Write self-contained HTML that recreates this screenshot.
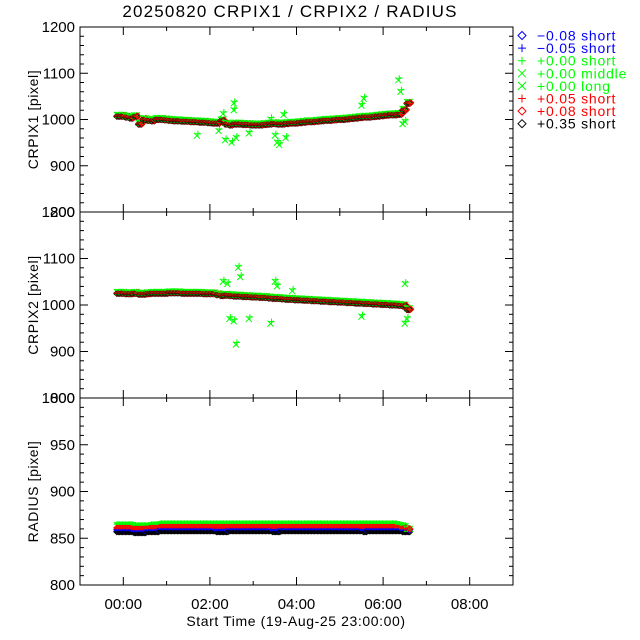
<!DOCTYPE html>
<html><head><meta charset="utf-8"><style>
body{margin:0;background:#fff}
svg{display:block;font-family:"Liberation Sans","DejaVu Sans",sans-serif}
</style></head><body>
<svg id="chart" width="640" height="640" viewBox="0 0 640 640">
<rect width="640" height="640" fill="#fff"/>
<text x="290" y="17" font-size="17" letter-spacing="1.2" text-anchor="middle">20250820 CRPIX1 / CRPIX2 / RADIUS</text>
<g id="axes"></g><g id="marks"></g><g id="legend"></g>
<text x="296" y="626" font-size="14" letter-spacing="0.6" text-anchor="middle">Start Time (19-Aug-25 23:00:00)</text>
</svg>
<script>
const times=[-0.15,-0.05,0.05,0.15,0.25,0.35,0.45,0.55,0.65,0.75,0.85,0.95,1.05,1.15,1.25,1.35,1.45,1.55,1.65,1.75,1.85,1.95,2.05,2.15,2.25,2.35,2.45,2.55,2.65,2.75,2.85,2.95,3.05,3.15,3.25,3.35,3.45,3.55,3.65,3.75,3.85,3.95,4.05,4.15,4.25,4.35,4.45,4.55,4.65,4.75,4.85,4.95,5.05,5.15,5.25,5.35,5.45,5.55,5.65,5.75,5.85,5.95,6.05,6.15,6.25,6.35,6.45,6.55];
const crpix1=[1007,1007,1005,1003,1006,990,1000,998,997,1000,1000,999,998,997,997,996,996,995,995,994,994,993,992,992,997,990,988,990,990,989,989,988,988,988,989,990,991,990,990,991,992,992,993,994,995,995,996,997,998,998,999,1000,1000,1001,1002,1003,1004,1005,1005,1006,1007,1008,1009,1010,1010,1011,1020,1035];
const crpix2=[1025,1025,1024,1024,1025,1023,1023,1024,1025,1025,1025,1025,1026,1026,1026,1025,1025,1025,1025,1025,1024,1024,1024,1022,1020,1021,1020,1019,1019,1018,1018,1017,1017,1016,1016,1015,1014,1014,1013,1012,1012,1011,1011,1010,1010,1009,1009,1008,1008,1007,1007,1006,1006,1005,1005,1004,1004,1003,1003,1002,1002,1001,1001,1000,1000,999,998,990];
const radiusBlack=[857,857,857,857,856,856,856,857,857,857,858,858,858,858,858,858,858,858,858,858,858,858,858,857,857,857,858,858,858,858,858,858,858,858,858,858,857,857,858,858,858,858,858,858,858,858,858,858,858,858,858,858,858,858,858,858,858,857,858,858,858,858,858,858,858,858,857,857];
const radiusRed=[861,861,861,861,860,860,860,861,861,861,862,862,862,862,862,862,862,862,862,862,862,862,862,862,862,862,862,862,862,862,862,862,862,862,862,862,862,862,862,862,862,862,862,862,862,862,862,862,862,862,862,862,862,862,862,862,862,862,862,862,862,862,862,862,862,862,861,860];
const radiusGreen=[864,864,864,864,863,863,863,863,864,864,865,865,865,865,865,865,865,865,865,865,865,865,865,865,865,865,865,865,865,865,865,865,865,865,865,865,865,865,865,865,865,865,865,865,865,865,865,865,865,865,865,865,865,865,865,865,865,865,865,865,865,865,865,865,865,864,863,860];
const outlierT1=[1.7,2.2,2.35,2.5,2.55,2.55,2.3,2.6,3.5,3.55,3.6,3.7,3.75,3.4,5.5,5.55,6.35,6.4,6.45,6.5,2.9];
const outlierV1=[965,975,955,950,1020,1035,1012,960,965,950,945,1010,960,1000,1030,1045,1085,1060,990,995,970];
const outlierT2=[2.3,2.45,2.55,2.6,2.65,2.7,2.4,3.5,3.55,3.4,5.5,6.5,6.5,6.55,2.9,3.9];
const outlierV2=[1050,970,965,915,1080,1060,1045,1050,1040,960,975,960,1045,970,970,1030];
const xTicks=[0,2,4,6,8];
const xTickLabels=["00:00","02:00","04:00","06:00","08:00"];
const panels=[
 {name:"crpix1",top:27,bot:212,min:800,max:1200,ticks:[800,900,1000,1100,1200],title:"CRPIX1 [pixel]"},
 {name:"crpix2",top:212,bot:398,min:800,max:1200,ticks:[800,900,1000,1100,1200],title:"CRPIX2 [pixel]"},
 {name:"radius",top:398,bot:585,min:800,max:1000,ticks:[800,850,900,950,1000],title:"RADIUS [pixel]"}];
const legendLabels=["\u22120.08 short","\u22120.05 short","+0.00 short","+0.00 middle","+0.00 long","+0.05 short","+0.08 short","+0.35 short"];
const legendColors=["#0000ff","#0000ff","#00ff00","#00ff00","#00ff00","#ff0000","#ff0000","#000000"];
const legendSyms=["d","+","+","x","x","+","d","d"];

const NS="http://www.w3.org/2000/svg";
const L=80,R=513;
const xs=t=>L+(t+1)/10*(R-L);
function mk(tag,at,parent){const e=document.createElementNS(NS,tag);for(const k in at)e.setAttribute(k,at[k]);parent.appendChild(e);return e;}
const axes=document.getElementById('axes'),marks=document.getElementById('marks'),leg=document.getElementById('legend');
function sym(g,s,x,y,c,r){
 r=r||3;let d;
 if(s==='d')d=`M${x-r},${y}L${x},${y-r}L${x+r},${y}L${x},${y+r}Z`;
 else if(s==='+')d=`M${x-r},${y}H${x+r}M${x},${y-r}V${y+r}`;
 else d=`M${x-r},${y-r}L${x+r},${y+r}M${x-r},${y+r}L${x+r},${y-r}`;
 const p=mk('path',{d:d,stroke:c,fill:'none','stroke-width':1},g);
 
 
}
panels.forEach((P,pi)=>{
 const ys=v=>P.bot-(v-P.min)/(P.max-P.min)*(P.bot-P.top);
 P.ys=ys;
 const g=mk('g',{},axes);
 
 
 mk('rect',{x:L,y:P.top,width:R-L,height:P.bot-P.top,fill:'none',stroke:'#000','stroke-width':1},g);
 const step=(P.max-P.min)/(P.ticks.length-1)/5;
 for(let v=P.min;v<=P.max+0.01;v+=step){
  const y=ys(v),major=P.ticks.some(t=>Math.abs(t-v)<0.01),len=major?8:4;
  mk('line',{x1:L,x2:L+len,y1:y,y2:y,stroke:'#000'},g);
  mk('line',{x1:R,x2:R-len,y1:y,y2:y,stroke:'#000'},g);
 }
 P.ticks.forEach(v=>{const t=mk('text',{x:L-5,y:ys(v)+5,'font-size':15,'text-anchor':'end'},g);t.textContent=v;
  });
 for(let h=-1;h<=9;h+=1){const x=xs(h),len=h%2===0?8:4;
  mk('line',{x1:x,x2:x,y1:P.bot,y2:P.bot-len,stroke:'#000'},g);
  mk('line',{x1:x,x2:x,y1:P.top,y2:P.top+len,stroke:'#000'},g);}
 const cy=(P.top+P.bot)/2;
 const yt=mk('text',{x:0,y:0,'font-size':14,'letter-spacing':0.6,'text-anchor':'middle',transform:`translate(38,${cy}) rotate(-90)`},g);
 yt.textContent=P.title;
 
 
});
xTicks.forEach((h,i)=>{const t=mk('text',{x:xs(h),y:609,'font-size':15,'text-anchor':'middle'},axes);t.textContent=xTickLabels[i];
 });

function drawPos(P,vals,outT,outV){
 outT.forEach((t,i)=>{sym(marks,'x',xs(t),P.ys(outV[i]),'#00ff00');sym(marks,'+',xs(t)+1,P.ys(outV[i])-2,'#00ff00');});
 times.forEach((t,i)=>{
  for(let k=0;k<3;k++){
   const tt=t+k*0.033,x=xs(tt),v=vals[i];
   sym(marks,'x',x,P.ys(v+3),'#00ff00');
   sym(marks,'+',x,P.ys(v+2),'#00ff00');
   sym(marks,'d',x,P.ys(v),'#000000');
   sym(marks,'+',x,P.ys(v),'#ff0000');
   sym(marks,'d',x+1,P.ys(v+1),'#ff0000');
  }
 });
}
drawPos(panels[0],crpix1,outlierT1,outlierV1);
drawPos(panels[1],crpix2,outlierT2,outlierV2);
const P3=panels[2];
times.forEach((t,i)=>{
 for(let k=0;k<3;k++){
  const x=xs(t+k*0.033);
  sym(marks,'d',x,P3.ys(radiusBlack[i]),'#000000');
  sym(marks,'d',x,P3.ys(radiusBlack[i]+2),'#0000ff');
  sym(marks,'x',x,P3.ys(radiusGreen[i]),'#00ff00');
  sym(marks,'+',x,P3.ys(radiusGreen[i]+1),'#00ff00');
  sym(marks,'+',x,P3.ys(radiusRed[i]),'#ff0000');
  sym(marks,'d',x,P3.ys(radiusRed[i]),'#ff0000');
 }
});
legendLabels.forEach((lab,i)=>{
 const y=35.5+i*12.6;
 const g=mk('g',{},leg);
 
 
 sym(g,legendSyms[i],522,y,legendColors[i],4);
 const t=mk('text',{x:537,y:y+5,'font-size':14,'letter-spacing':0.8,fill:legendColors[i]},g);t.textContent=lab;
});
</script>
</body></html>
